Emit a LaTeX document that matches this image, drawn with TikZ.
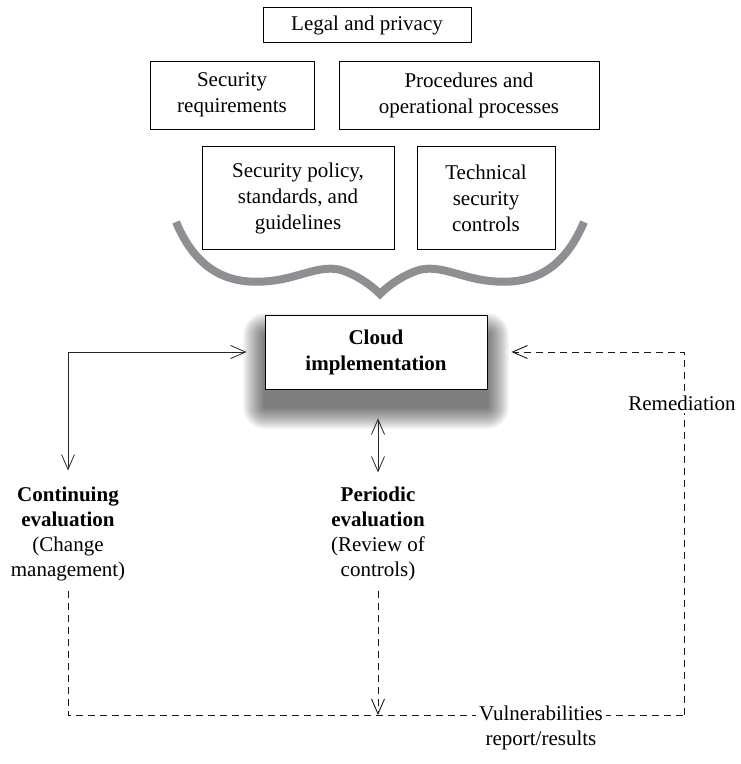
\documentclass[tikz,border=0pt]{standalone}
\usepackage{fontspec}
\setmainfont{Liberation Serif}
\usepackage{tikz}
\usetikzlibrary{arrows.meta,calc}
\definecolor{bracegray}{RGB}{142,143,147}
\tikzstyle{infobox} = [draw, line width=0.8pt, align=center, inner sep=2pt, font=\fontsize{21}{26}\selectfont]
\tikzstyle{cloudbox} = [infobox, fill=white, font=\fontsize{21}{26}\selectfont\bfseries]
\tikzstyle{label} = [align=center, font=\fontsize{21}{25}\selectfont]
\tikzstyle{arrow} = [draw, line width=0.8pt, color=black!85, {Straight Barb[length=15pt,width=13pt]}-{Straight Barb[length=15pt,width=13pt]}]
\tikzstyle{dasharrow} = [draw, line width=0.9pt, color=black!90, dash pattern=on 7pt off 5pt, -{Straight Barb[length=15pt,width=13pt]}]

\begin{document}
\begin{tikzpicture}[x=1pt,y=-1pt]
\useasboundingbox (0,0) rectangle (740,764);

\foreach \x/\y/\w/\h/\t [count=\n] in
{367/25/208/35/{Legal and privacy},
 232/95/164/68/{Security\\ requirements},
 469/95/260/68/{Procedures and\\ operational processes},
 298/198/192/103/{Security policy,\\ standards, and\\ guidelines},
 486/198/138/103/{Technical\\ security\\ controls}}
\node[infobox, minimum width=\w pt, minimum height=\h pt] (B\n) at (\x,\y) {\t};

% the brace
\draw[bracegray, line width=8pt, line join=miter, line cap=butt]
  (176,222) .. controls (198,274) and (232,285) .. (270,281)
  .. controls (300,278) and (322,263) .. (344,271)
  .. controls (360,277) and (372,286) .. (380,294)
  .. controls (388,286) and (400,277) .. (416,271)
  .. controls (438,263) and (460,278) .. (490,281)
  .. controls (528,285) and (562,274) .. (584,222);

% soft shadow under the cloud box
\foreach \i in {0,...,21}
  \fill[black, opacity=0.033, rounded corners={22pt-\i pt}]
    (376-111-22+\i,352-37+20-22+\i) rectangle (376+111+22-\i,352+37+18+22-\i);

\node[cloudbox, minimum width=222pt, minimum height=74pt] (cloud) at (376,352) {Cloud\\ implementation};

\node[label] (cont) at (68,534) {\textbf{Continuing}\\ \textbf{evaluation}\\ (Change\\ management)};
\node[label] (peri) at (378,534) {\textbf{Periodic}\\ \textbf{evaluation}\\ (Review of\\ controls)};

\coordinate (bl) at (68,715);
\coordinate (br) at (684,715);

\draw[arrow, shorten <=13pt, shorten >=18pt] (cont.north) |- (cloud.west);
\draw[arrow] ($(cloud.south)+(2,29)$) -- ($(peri.north)+(0,-11)$);

\draw[dasharrow, -] ($(cont.south)+(0,6)$) -- (bl) -- (br);
\draw[dasharrow, shorten >=24pt] (br) |- (cloud.east);
\draw[dasharrow] ($(peri.south)+(0,6)$) -- (peri.south |- bl);

\node[label, fill=white, inner sep=3pt] (vuln) at (541,728) {Vulnerabilities\\ report/results};
\node[label, fill=white, inner sep=3pt] (remed) at (682,403) {Remediation};

\end{tikzpicture}
\end{document}
